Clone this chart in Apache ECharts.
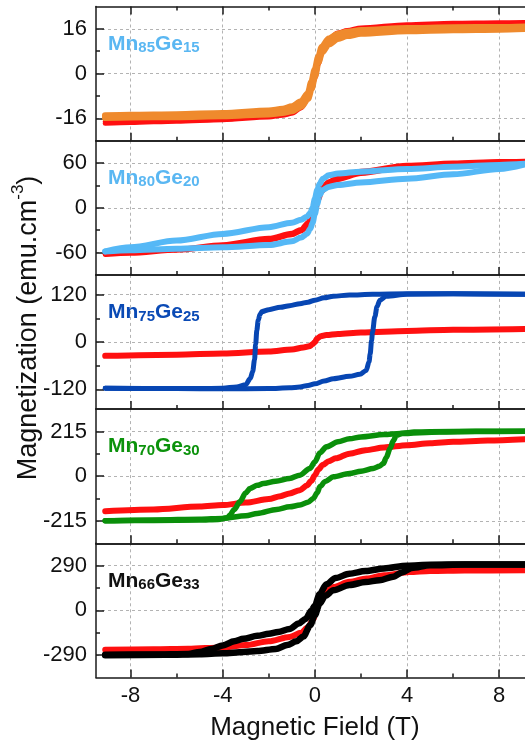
<!DOCTYPE html>
<html>
<head>
<meta charset="utf-8">
<script src="https://cdn.jsdelivr.net/npm/echarts@6/dist/echarts.min.js"></script>
<style>html,body{margin:0;padding:0;background:#fff;}#chart{width:525px;height:740px;}</style>
</head>
<body>
<div id="chart"></div>
<script>
// ---------- tick definitions ----------
const xMajorTicks = [-8, -4, 0, 4, 8];
const xMinorTicks = [-6, -2, 2, 6];
const yRanges = [24, 90, 170, 322.5, 435];
const yMajorTicks = [[-16, 0, 16], [-60, 0, 60], [-120, 0, 120], [-215, 0, 215], [-290, 0, 290]];
const yMinorTicks = [[-8, 8], [-30, 30], [-60, 60], [-107.5, 107.5], [-145, 145]];
const sampleNames = [['85', '15'], ['80', '20'], ['75', '25'], ['70', '30'], ['66', '33']];

// ---------- Panel 1: Mn85Ge15 ----------
const p1H = [-9.1, -8, -6, -4, -2, -1.4, -1, -0.6, -0.3, -0.15, 0, 0.15, 0.3, 0.6, 1, 1.4, 2, 4, 6, 8, 9.1];
const p1RedUp = [-17.2, -17.0, -16.8, -16.3, -15.0, -14.0, -12.8, -10.5, -7.0, -3.0, 1.5, 5.5, 9.0, 12.5, 14.5, 15.4, 16.3, 17.5, 18.0, 18.2, 18.3];
const p1RedLo = [-17.8, -17.5, -17.0, -16.5, -15.5, -14.9, -14.2, -12.3, -9.0, -5.5, -1.5, 3.5, 7.5, 11.3, 13.5, 14.8, 15.8, 17.0, 17.5, 17.8, 18.0];
const p1OrangeUp = [-15.0, -14.8, -14.6, -14.2, -13.3, -12.7, -11.8, -10.0, -7.0, -3.0, 1.5, 6.0, 9.5, 12.5, 14.2, 14.9, 15.5, 16.2, 16.5, 16.6, 16.8];
const p1OrangeLo = [-15.8, -15.6, -15.5, -15.2, -14.5, -14.0, -13.4, -11.8, -9.0, -5.5, -1.0, 4.0, 7.5, 10.5, 12.5, 13.5, 14.3, 15.2, 15.6, 15.8, 16.0];

// ---------- Panel 2: Mn80Ge20 ----------
const p2RedH = [-9.1, -8, -6, -4, -2, -1, -0.6, -0.3, -0.15, 0, 0.15, 0.3, 0.6, 1, 2, 4, 6, 8, 9.1];
const p2RedAsc = [-62.5, -61, -57, -51, -43, -36, -31, -25, -18, -5, 10, 22, 32, 38, 46, 55, 59, 61, 62];
const p2RedDesc = [-62, -60, -55.5, -49.5, -41, -34, -29, -20, -8, 6, 20, 27, 35, 41, 49, 57, 60, 62, 62.5];
const p2BlueH = [-9.1, -8, -6, -4, -2, -1, -0.6, -0.35, -0.2, -0.1, 0, 0.1, 0.2, 0.35, 0.6, 1, 2, 4, 6, 8, 9.1];
const p2BlueDesc = [-58.5, -53, -44, -35, -26, -20, -16, -12, -7, 0, 12, 24, 32, 39, 43.5, 46, 48.5, 52, 55, 57.5, 59];
const p2BlueAsc = [-58.5, -57, -55, -53, -50, -45, -40, -35, -28, -20, -8, 5, 17, 24, 28, 30.5, 34, 39, 45, 52, 58];

// ---------- Panel 3: Mn75Ge25 ----------
const p3RedH = [-9.1, -6, -4, -2, -1, -0.5, -0.25, -0.1, 0, 0.1, 0.25, 0.5, 1, 2, 4, 6, 9.1];
const p3RedM = [-35, -32, -29, -24, -19, -14, -11, -6, 0, 9, 14.5, 17.5, 20.5, 24, 28, 31, 33];
const p3BlueAscH = [-9.1, -7, -5, -4, -3.4, -3, -2.8, -2.7, -2.62, -2.57, -2.52, -2.46, -2.38, -2.3, -2, -1.5, -1.1, -0.65, -0.3, 0, 0.4, 0.8, 1.5, 2.5, 4, 6, 9.1];
const p3BlueAscM = [-117, -118, -118, -117, -114, -108, -92, -75, -45, -5, 30, 55, 70, 77, 82, 88, 92, 97, 101, 106, 112, 116, 119, 121, 122, 122, 121];
const p3BlueDescH = [-9.1, -6, -4, -2, -1.1, -0.65, -0.3, 0, 0.4, 0.8, 1.5, 1.95, 2.23, 2.35, 2.4, 2.46, 2.5, 2.6, 2.7, 2.82, 3.1, 4, 6, 9.1];
const p3BlueDescM = [-117, -118, -118.5, -118, -116, -114, -110, -106, -99, -93, -87, -82, -72, -50, -30, 4, 25, 64, 90, 106, 116, 121, 122, 121];

// ---------- Panel 4: Mn70Ge30 ----------
const p4RedH = [-9.1, -7, -5, -4, -3, -2, -1.5, -1.1, -0.65, -0.35, -0.15, 0, 0.15, 0.35, 0.6, 0.9, 1.5, 2.2, 3, 4, 5, 6, 7.5, 9.1];
const p4RedM = [-168, -160, -146, -139, -127, -110, -96, -83, -67, -45, -22, 5, 32, 55, 72, 86, 108, 125, 138, 149, 158, 165, 172, 178];
const p4GreenAscH = [-9.1, -7, -5, -4.2, -3.8, -3.69, -3.5, -3.26, -3.0, -2.82, -2.5, -2.24, -1.7, -1.1, -0.65, -0.22, 0, 0.22, 0.5, 1, 1.5, 2, 3, 3.7, 5.4, 7, 9.1];
const p4GreenAscM = [-214, -213, -211, -208, -200, -187, -160, -123, -80, -59, -44, -35, -24, -11, 5, 37, 69, 113, 141, 165, 180, 189, 200, 205, 213, 215, 216];
const p4GreenDescH = [-9.1, -6.9, -5, -4, -3, -2.5, -1.66, -1.1, -0.65, -0.3, -0.07, 0.1, 0.22, 0.45, 0.8, 1.5, 2, 2.53, 2.8, 2.97, 3.1, 3.26, 3.4, 3.54, 3.8, 4.3, 5, 7, 9.1];
const p4GreenDescM = [-214, -210, -207, -203, -190, -179, -160, -147, -139, -125, -107, -80, -50, -25, -3, 13, 24, 37, 48, 61, 90, 133, 170, 197, 207, 212, 214, 216, 216];

// ---------- Panel 5: Mn66Ge33 ----------
const p5RedH = [-9.1, -7, -5.5, -4, -3, -2, -1.1, -0.6, -0.3, -0.07, 0.07, 0.25, 0.5, 0.8, 1.5, 2.24, 3, 4.1, 5, 6.5, 9.1];
const p5RedM = [-255, -252, -249, -240, -225, -200, -172, -145, -110, -55, 10, 75, 125, 152, 185, 206, 228, 249, 256, 259, 260];
const p5BlackAscH = [-9.1, -7, -5.5, -5, -4.5, -4, -3.5, -3.1, -2.5, -2, -1.6, -1.1, -0.7, -0.4, -0.15, 0, 0.2, 0.5, 0.9, 1.5, 2.2, 3, 4, 5, 6.5, 9.1];
const p5BlackAscM = [-288, -286, -282, -270, -250, -227, -200, -184, -165, -152, -140, -120, -85, -55, 0, 30, 105, 170, 210, 238, 255, 272, 290, 296, 298, 298];
const p5BlackDescH = [-9.1, -6.5, -5, -4, -3.1, -2.5, -1.7, -1.2, -0.8, -0.5, -0.2, 0, 0.2, 0.45, 0.8, 1.5, 2.2, 2.8, 3.4, 3.8, 4.2, 5, 6.5, 9.1];
const p5BlackDescM = [-290, -288, -284, -278, -270, -264, -250, -225, -200, -170, -95, -30, 43, 95, 130, 165, 184, 196, 218, 248, 275, 293, 297, 298];

// ---------- styling ----------
const FONT = '"Liberation Sans", Arial, sans-serif';
const AXIS_COLOR = '#1a1a1a';
const RED = '#ff1010', ORANGE = '#ef8a2d', LBLUE = '#55b8f6', DBLUE = '#0746b3', GREEN = '#0a8f0a', BLACK = '#000000';
const labelColors = ['#5ab7f2', '#5ab7f2', '#0a4ab5', '#0b920b', '#111111'];

const GRID_LEFT = 96, GRID_WIDTH = 437.8, GRID_TOP0 = 6.5, GRID_H = 134.2;

const grids = [], xAxes = [], yAxes = [], series = [], graphics = [];

function pairs(h, m) { return h.map((v, i) => [v, m[i]]); }

for (let i = 0; i < 5; i++) {
  const top = GRID_TOP0 + i * GRID_H;
  grids.push({ left: GRID_LEFT, top: top, width: GRID_WIDTH, height: GRID_H, outerBoundsMode: 'none', containLabel: false });
  const lineStyle = { color: AXIS_COLOR, width: 1.5 };
  xAxes.push({
    type: 'value', gridIndex: i, min: -9.5, max: 9.5, position: 'bottom',
    axisLine: { show: true, onZero: false, lineStyle },
    axisTick: { show: true, inside: true, length: 8, customValues: xMajorTicks, lineStyle },
    minorTick: { show: false },
    axisLabel: { show: i === 4, customValues: xMajorTicks, fontSize: 22, color: '#111', fontFamily: FONT, margin: 7 },
    splitLine: { show: true, lineStyle: { type: [3, 3], color: '#b3b3b3', width: 1 } },
    name: i === 4 ? 'Magnetic Field (T)' : '', nameLocation: 'middle', nameGap: 37,
    nameTextStyle: { fontSize: 26, color: '#111', fontFamily: FONT }
  });
  xAxes.push({
    type: 'value', gridIndex: i, min: -9.5, max: 9.5, position: 'bottom',
    axisLine: { show: false, onZero: false }, axisLabel: { show: false }, splitLine: { show: false },
    axisTick: { show: true, inside: true, length: 4, customValues: xMinorTicks, lineStyle }
  });
  xAxes.push({
    type: 'value', gridIndex: i, min: -9.5, max: 9.5, position: 'top',
    axisLine: { show: true, onZero: false, lineStyle }, axisLabel: { show: false }, splitLine: { show: false },
    axisTick: { show: i === 0, inside: true, length: 8, customValues: xMajorTicks, lineStyle }
  });
  xAxes.push({
    type: 'value', gridIndex: i, min: -9.5, max: 9.5, position: 'top',
    axisLine: { show: false, onZero: false }, axisLabel: { show: false }, splitLine: { show: false },
    axisTick: { show: i === 0, inside: true, length: 4, customValues: xMinorTicks, lineStyle }
  });
  yAxes.push({
    type: 'value', gridIndex: i, min: -yRanges[i], max: yRanges[i], position: 'left',
    axisLine: { show: true, onZero: false, lineStyle },
    axisTick: { show: true, inside: true, length: 8, customValues: yMajorTicks[i], lineStyle },
    minorTick: { show: false },
    axisLabel: { show: true, customValues: yMajorTicks[i], fontSize: 22, color: '#111', fontFamily: FONT, margin: 9 },
    splitLine: { show: true, lineStyle: { type: [3, 3], color: '#b3b3b3', width: 1 } }
  });
  yAxes.push({
    type: 'value', gridIndex: i, min: -yRanges[i], max: yRanges[i], position: 'left',
    axisLine: { show: false, onZero: false }, axisLabel: { show: false }, splitLine: { show: false },
    axisTick: { show: true, inside: true, length: 4, customValues: yMinorTicks[i], lineStyle }
  });

  const c = labelColors[i];
  const n = sampleNames[i];
  graphics.push({
    type: 'text', x: 108, y: top + 27, z: 100,
    style: {
      text: '{m|Mn}{s|' + n[0] + '}{m|Ge}{s|' + n[1] + '}',
      align: 'left', verticalAlign: 'top',
      rich: {
        m: { fontSize: 21, fontWeight: 'bold', fontFamily: FONT, lineHeight: 22, verticalAlign: 'top', fill: c, color: c },
        s: { fontSize: 15, fontWeight: 'bold', fontFamily: FONT, lineHeight: 22, padding: [9, 0, 0, 0], verticalAlign: 'bottom', fill: c, color: c }
      }
    }
  });
}

function addLine(panel, h, m, color, width) {
  series.push({
    type: 'line', xAxisIndex: panel * 4, yAxisIndex: panel * 2,
    data: pairs(h, m), showSymbol: false, symbol: 'none',
    smooth: 0.3, smoothMonotone: 'x',
    lineStyle: { color: color, width: width, cap: 'round', join: 'round' },
    itemStyle: { color: color }, silent: true, clip: true, animation: false
  });
}

addLine(0, p1H, p1RedUp, RED, 5);
addLine(0, p1H, p1RedLo, RED, 5);
addLine(0, p1H, p1OrangeUp, ORANGE, 6.5);
addLine(0, p1H, p1OrangeLo, ORANGE, 6.5);

addLine(1, p2RedH, p2RedAsc, RED, 5);
addLine(1, p2RedH, p2RedDesc, RED, 5);
addLine(1, p2BlueH, p2BlueDesc, LBLUE, 6);
addLine(1, p2BlueH, p2BlueAsc, LBLUE, 6);

addLine(2, p3RedH, p3RedM, RED, 6);
addLine(2, p3BlueAscH, p3BlueAscM, DBLUE, 5);
addLine(2, p3BlueDescH, p3BlueDescM, DBLUE, 5);

addLine(3, p4RedH, p4RedM, RED, 6);
addLine(3, p4GreenAscH, p4GreenAscM, GREEN, 5.5);
addLine(3, p4GreenDescH, p4GreenDescM, GREEN, 5.5);

addLine(4, p5RedH, p5RedM, RED, 6);
addLine(4, p5BlackAscH, p5BlackAscM, BLACK, 6.5);
addLine(4, p5BlackDescH, p5BlackDescM, BLACK, 6.5);

graphics.push({
  type: 'text', x: 26, y: 328, rotation: Math.PI / 2, z: 100,
  style: {
    text: '{a|Magnetization (emu.cm}{b|-3}{a|)}',
    align: 'center', verticalAlign: 'middle',
    rich: {
      a: { fontSize: 27, fontFamily: FONT, lineHeight: 32, verticalAlign: 'bottom', fill: '#111', color: '#111' },
      b: { fontSize: 17, fontFamily: FONT, lineHeight: 16, verticalAlign: 'top', fill: '#111', color: '#111' }
    }
  }
});

const chart = echarts.init(document.getElementById('chart'), null, { renderer: 'canvas' });
chart.setOption({
  animation: false,
  backgroundColor: '#ffffff',
  grid: grids,
  xAxis: xAxes,
  yAxis: yAxes,
  series: series,
  graphic: graphics
});
</script>
</body>
</html>
